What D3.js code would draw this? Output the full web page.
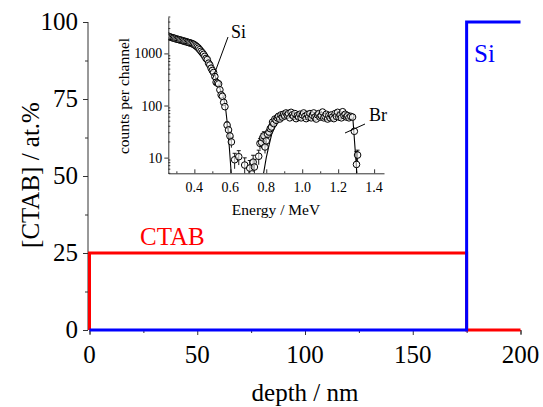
<!DOCTYPE html>
<html><head><meta charset="utf-8">
<script src="https://cdn.jsdelivr.net/npm/d3@7"></script>
<style>
html,body{margin:0;padding:0;background:#fff;}
svg{display:block;}
text{font-family:"Liberation Serif","Times New Roman",serif;fill:#000;}
</style></head>
<body>
<svg id="chart" width="543" height="407"></svg>
<script>
// ---- main chart data ----
const depthTicks = [0, 50, 100, 150, 200];
const concTicks = [0, 25, 50, 75, 100];
const ctabDepth = [0, 0, 175, 175, 200];
const ctabConc  = [0, 25, 25, 0, 0];
const siDepth = [0, 175, 175, 200];
const siConc  = [0, 0, 100, 100];

// ---- inset RBS spectrum data ----
const spectrumEnergy = [0.255,0.262,0.269,0.276,0.283,0.290,0.297,0.304,0.311,0.318,0.325,0.332,0.339,0.346,0.353,0.360,0.367,0.374,0.381,0.388,0.395,0.402,0.409,0.416,0.423,0.430,0.437,0.444,0.451,0.458,0.465,0.472,0.479,0.486,0.493,0.500,0.507,0.514,0.521,0.528,0.535,0.542,0.549,0.556,0.563,0.570,0.582,0.590,0.598,0.606,0.624,0.647,0.680,0.708,0.727,0.734,0.758,0.765,0.774,0.780,0.787,0.793,0.800,0.808,0.815,0.822,0.829,0.835,0.842,0.848,0.855,0.862,0.868,0.875,0.882,0.889,0.896,0.903,0.910,0.917,0.924,0.931,0.938,0.945,0.952,0.959,0.966,0.973,0.980,0.987,0.994,1.001,1.008,1.015,1.022,1.029,1.036,1.043,1.050,1.057,1.064,1.071,1.078,1.085,1.092,1.099,1.106,1.113,1.120,1.127,1.134,1.141,1.148,1.155,1.162,1.169,1.176,1.183,1.190,1.197,1.204,1.211,1.218,1.225,1.232,1.239,1.246,1.253,1.260,1.270,1.280,1.290,1.302,1.308];
const spectrumCounts = [2150,2080,2050,2000,1980,1950,1900,1880,1850,1820,1800,1760,1740,1700,1690,1650,1620,1600,1570,1540,1500,1450,1390,1330,1260,1180,1100,1030,960,880,800,760,650,600,520,470,430,360,280,270,260,200,160,150,115,95,42,34,26,20,9.1,10.4,7.2,6.3,8.2,6.6,10.6,18.8,19.6,24,26.3,16,21,28,31,36,38.6,48,45,55,52,58,62,55,66,60,68,63,72,65,70,58,74,66,62,70,56,64,60,68,58,66,72,62,56,67,60,70,58,65,72,60,55,66,70,60,64,75,58,62,68,55,64,58,66,60,56,70,62,74,60,66,58,76,64,68,60,64,58,62,60,32,7.4,11.2];
const spectrumError = [0,0,0,0,0,0,0,0,0,0,0,0,0,0,0,0,0,0,0,0,0,0,0,0,0,0,0,0,0,0,0,0,0,0,0,0,0,0,0,0,0,0,0,0,0,0,6.5,5.8,5.1,4.5,3,3.2,2.7,2.5,2.9,2.6,3.3,4.3,4.4,4.9,5.1,4,4.6,5.3,5.6,6,6.2,0,0,0,0,0,0,0,0,0,0,0,0,0,0,0,0,0,0,0,0,0,0,0,0,0,0,0,0,0,0,0,0,0,0,0,0,0,0,0,0,0,0,0,0,0,0,0,0,0,0,0,0,0,0,0,0,0,0,0,0,0,0,0,0,0,5.7,2.7,3.3];
const simSiEnergy = [0.255,0.30,0.35,0.40,0.43,0.45,0.47,0.49,0.51,0.53,0.55,0.562,0.572,0.585,0.595,0.605];
const simSiCounts = [2000,1900,1720,1480,1220,1000,800,600,400,280,180,140,100,40,15,5];
const simBrEnergy = [0.785,0.80,0.815,0.83,0.85,0.87,0.90,0.95,1.00,1.10,1.20,1.27,1.282,1.304];
const simBrCounts = [5,10,17,28,40,50,58,63,64,63,62,60,55,5];
const energyTicks = [0.4, 0.6, 0.8, 1.0, 1.2, 1.4];
const countTicks = [10, 100, 1000];

const svg = d3.select("#chart");

// ================= MAIN CHART =================
const x = d3.scaleLinear().domain([0, 200]).range([89.5, 520.5]);
const y = d3.scaleLinear().domain([0, 100]).range([330, 22]);

const gx = svg.append("g").attr("transform", `translate(0,${y(0)})`);
gx.call(d3.axisBottom(x).tickValues(d3.range(0, 201, 25)).tickSize(4).tickFormat(""));
gx.selectAll(".tick line").attr("y2", (d) => d % 50 === 0 ? 5 : 3).attr("stroke", "#333");
gx.select(".domain").attr("stroke", "#333");
gx.selectAll(".tickLabel").data(depthTicks).enter().append("text")
  .attr("x", d => x(d)).attr("y", 33).attr("text-anchor", "middle")
  .attr("font-size", 25).text(d => d);

const gy = svg.append("g").attr("transform", `translate(${x(0) - 1.5},0)`);
gy.call(d3.axisLeft(y).tickValues(d3.range(0, 101, 12.5)).tickSize(5).tickFormat(""));
gy.selectAll(".tick line").attr("x2", (d) => d % 25 === 0 ? -5 : -3).attr("stroke", "#333");
gy.select(".domain").attr("stroke", "#333").attr("d", `M0,${y(0)}V${y(100)}`);
gy.selectAll(".tickLabel").data(concTicks).enter().append("text")
  .attr("x", -10).attr("y", d => y(d) + 8).attr("text-anchor", "end")
  .attr("font-size", 25).text(d => d);

const line = d3.line().x(d => x(d[0])).y(d => y(d[1]));
svg.append("path").datum(d3.zip(ctabDepth, ctabConc)).attr("d", line)
  .attr("fill", "none").attr("stroke", "#ff0000").attr("stroke-width", 3);
svg.append("path").datum(d3.zip(siDepth, siConc)).attr("d", line)
  .attr("fill", "none").attr("stroke", "#0000ff").attr("stroke-width", 3);

svg.append("text").attr("x", 140).attr("y", 245).attr("font-size", 25).style("fill", "#ff0000").text("CTAB");
svg.append("text").attr("x", 474).attr("y", 62).attr("font-size", 25).style("fill", "#0000ff").text("Si");

svg.append("text").attr("x", 305).attr("y", 401).attr("text-anchor", "middle")
  .attr("font-size", 25).text("depth / nm");
svg.append("text").attr("transform", "translate(39,175) rotate(-90)").attr("text-anchor", "middle")
  .attr("font-size", 25).text("[CTAB] / at.%");

// ================= INSET =================
const ix = d3.scaleLinear().domain([0.255, 1.455]).range([168.3, 384]);
const iy = d3.scaleLog().domain([5, 5000]).range([173.3, 17]);

const igx = svg.append("g").attr("transform", `translate(0,${iy(5)})`);
igx.call(d3.axisBottom(ix).tickValues(d3.range(3, 15).map(v => v / 10)).tickFormat("").tickSizeOuter(0));
igx.selectAll(".tick line").attr("y2", d => (Math.round(d * 10) % 2 === 0) ? -4 : -2).attr("stroke", "#333");
igx.select(".domain").attr("stroke", "#333");
igx.selectAll(".tickLabel").data(energyTicks).enter().append("text")
  .attr("x", d => ix(d)).attr("y", 19).attr("text-anchor", "middle")
  .attr("font-size", 14).text(d => d.toFixed(1));

const minorCounts = [];
[1, 10, 100, 1000].forEach(dec => { for (let k = 2; k <= 9; k++) { const v = dec * k; if (v >= 5 && v <= 5000) minorCounts.push(v); } });
const igy = svg.append("g").attr("transform", `translate(${ix(0.255)},0)`);
igy.call(d3.axisLeft(iy).tickValues(countTicks).tickFormat("").tickSize(4).tickSizeOuter(0));
igy.selectAll(".tick line").attr("stroke", "#333");
igy.select(".domain").attr("stroke", "#333");
igy.selectAll(".minor").data(minorCounts).enter().append("line")
  .attr("x1", 0).attr("x2", 2).attr("y1", d => iy(d)).attr("y2", d => iy(d)).attr("stroke", "#333");
igy.selectAll(".tickLabel").data(countTicks).enter().append("text")
  .attr("x", -6).attr("y", d => iy(d) + 5).attr("text-anchor", "end")
  .attr("font-size", 14).text(d => d);

svg.append("text").attr("x", 276).attr("y", 215).attr("text-anchor", "middle")
  .attr("font-size", 15.5).text("Energy / MeV");
svg.append("text").attr("transform", "translate(129,96) rotate(-90)").attr("text-anchor", "middle")
  .attr("font-size", 15.5).text("counts per channel");

svg.append("clipPath").attr("id", "iclip").append("rect")
  .attr("x", ix(0.255)).attr("y", iy(5000)).attr("width", ix(1.455) - ix(0.255)).attr("height", iy(5) - iy(5000));
const ig = svg.append("g").attr("clip-path", "url(#iclip)");

const iline = d3.line().x(d => ix(d[0])).y(d => iy(d[1]));
ig.append("path").datum(d3.zip(simSiEnergy, simSiCounts)).attr("d", iline)
  .attr("fill", "none").attr("stroke", "#000").attr("stroke-width", 1.1);
ig.append("path").datum(d3.zip(simBrEnergy, simBrCounts)).attr("d", iline)
  .attr("fill", "none").attr("stroke", "#000").attr("stroke-width", 1.1);

const pts = d3.zip(spectrumEnergy, spectrumCounts, spectrumError);
const eb = ig.append("g");
pts.filter(p => p[2] > 0).forEach(p => {
  const cx = ix(p[0]);
  const yt = iy(p[1] + p[2]), yb = iy(Math.max(p[1] - p[2], 1));
  eb.append("line").attr("x1", cx).attr("x2", cx).attr("y1", yt).attr("y2", yb).attr("stroke", "#000").attr("stroke-width", 0.9);
  eb.append("line").attr("x1", cx - 2).attr("x2", cx + 2).attr("y1", yt).attr("y2", yt).attr("stroke", "#000").attr("stroke-width", 0.9);
});
ig.selectAll("circle.pt").data(pts).enter().append("circle")
  .attr("cx", d => ix(d[0])).attr("cy", d => iy(d[1])).attr("r", 3.3)
  .attr("fill", "#fff").attr("fill-opacity", 0.6).attr("stroke", "#000").attr("stroke-width", 1);

// annotations
svg.append("text").attr("x", 231).attr("y", 38).attr("font-size", 18).text("Si");
svg.append("line").attr("x1", 228).attr("y1", 37).attr("x2", 212.5).attr("y2", 79).attr("stroke", "#000").attr("stroke-width", 1);
svg.append("text").attr("x", 369).attr("y", 121).attr("font-size", 18).text("Br");
svg.append("line").attr("x1", 365).attr("y1", 124).attr("x2", 345).attr("y2", 133).attr("stroke", "#000").attr("stroke-width", 1);
</script>
</body></html>
